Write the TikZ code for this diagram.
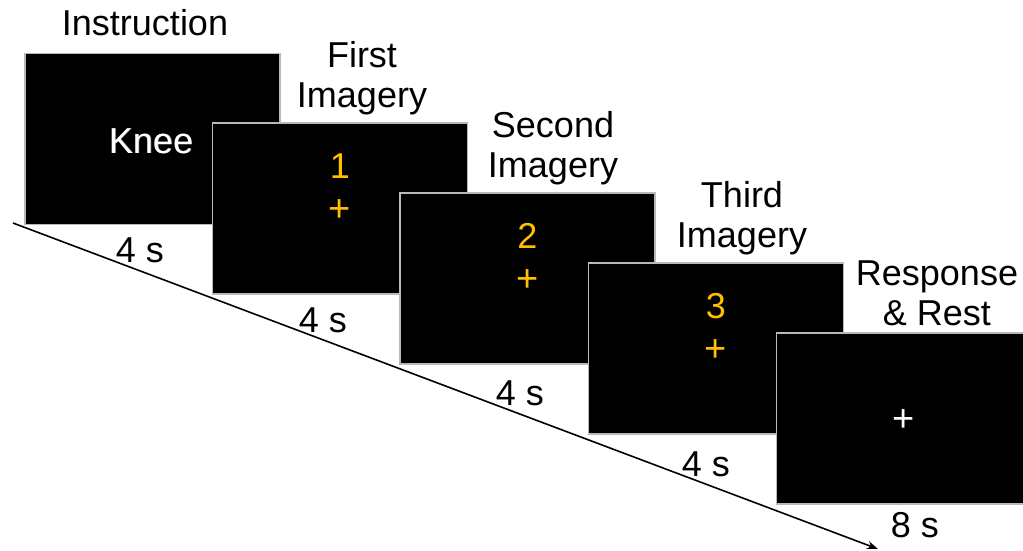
\documentclass[tikz,border=0pt]{standalone}
\usepackage{fontspec}
\setmainfont{Liberation Sans}
\usetikzlibrary{arrows.meta}
\definecolor{ylw}{HTML}{FFC000}
\tikzset{
  screen/.style={draw=gray!55, line width=1.3pt, fill=black, minimum width=255pt, minimum height=171pt, inner sep=0pt},
  lbl/.style={font=\fontsize{36}{40}\selectfont, inner sep=0pt, anchor=base, align=center},
  cue/.style={font=\fontsize{36}{40}\selectfont, inner sep=0pt, anchor=base, text=ylw},
  crs/.style={font=\fontsize{38}{40}\selectfont, inner sep=0pt, anchor=center, text=ylw},
  timeline/.style={line width=1.6pt, -{Stealth[length=11pt,width=8pt]}}
}
\begin{document}
\begin{tikzpicture}[x=1pt,y=-1pt]
\useasboundingbox (0,0) rectangle (1023,550);
% timeline
\coordinate (t0) at (13,223);
\coordinate (t1) at (878,549);
\draw[timeline] (t0) -- (t1);
% screens
\node[screen] (s1) at (152.5,139) {};
\node[screen] (s2) at (340,208.5) {};
\node[screen] (s3) at (527.5,278.5) {};
\node[screen] (s4) at (716,348.5) {};
\node[screen] (s5) at (904,418.5) {};
% screen contents
\node[lbl, text=gray!70] (kneeg) at (151.7,153.7) {Knee};
\node[lbl, text=white] (knee) at (151,153) {Knee};
\node[cue] (c1) at (340,178) {1};
\node[crs] (p1) at (340,211) {+};
\node[cue] (c2) at (527.5,248) {2};
\node[crs] (p2) at (527.5,281) {+};
\node[cue] (c3) at (716,318) {3};
\node[crs] (p3) at (716,351) {+};
\node[crs, text=white] (p5) at (904,421) {+};
% titles
\node[lbl] (h1) at (145,35) {Instruction};
\node[lbl] (h2) at (362,107) {First\\Imagery};
\node[lbl] (h3) at (553,177) {Second\\Imagery};
\node[lbl] (h4) at (742,247) {Third\\Imagery};
\node[lbl] (h5) at (937,325) {Response\\\& Rest};
% durations
\node[lbl] (d1) at (140,262) {4 s};
\node[lbl] (d2) at (323,332) {4 s};
\node[lbl] (d3) at (520,405) {4 s};
\node[lbl] (d4) at (706,476) {4 s};
\node[lbl] (d5) at (915,537) {8 s};
\end{tikzpicture}
\end{document}
